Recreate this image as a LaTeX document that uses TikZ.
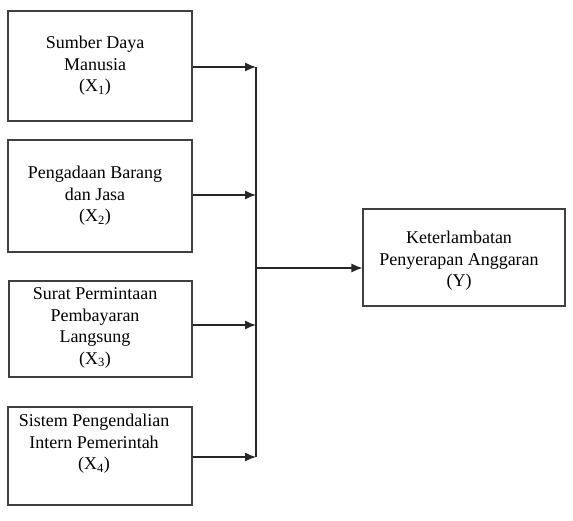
\documentclass[tikz,border=0pt]{standalone}
\usepackage{fontspec}
\setmainfont{Liberation Serif}
\usetikzlibrary{arrows.meta,calc}
\begin{document}
\begin{tikzpicture}[x=1pt,y=-1pt,
  box/.style={draw=black!75,line width=1.1pt,inner sep=0pt},
  txt/.style={align=center,font=\fontsize{18}{21.5}\selectfont,inner sep=0pt},
  conn/.style={line width=1.3pt,draw=black!85},
  arr/.style={conn,-{Latex[length=11pt,width=9pt]}}]
\useasboundingbox (0,0) rectangle (573,521);
\node[box,minimum width=184pt,minimum height=110pt] (B1) at (100,66) {};
\node[box,minimum width=184pt,minimum height=112pt] (B2) at (100,196) {};
\node[box,minimum width=183pt,minimum height=96pt] (B3) at (100.5,329) {};
\node[box,minimum width=184pt,minimum height=98pt] (B4) at (100,456) {};
\node[box,minimum width=202pt,minimum height=97pt] (R) at (464,257.5) {};
\node[txt] (T1) at (95,66) {Sumber Daya\\Manusia\\(X\textsubscript{1})};
\node[txt] (T2) at (95,196) {Pengadaan Barang\\dan Jasa\\(X\textsubscript{2})};
\node[txt] (T3) at (95,328) {Surat Permintaan\\Pembayaran\\Langsung\\(X\textsubscript{3})};
\node[txt] (T4) at (94,444) {Sistem Pengendalian\\Intern Pemerintah\\(X\textsubscript{4})};
\node[txt] (TR) at (459,261) {Keterlambatan\\Penyerapan Anggaran\\(Y)};
\coordinate (j1) at (256,67);
\coordinate (j2) at (256,195);
\coordinate (j3) at (256,325);
\coordinate (j4) at (256,457);
\coordinate (jy) at (256,268);
\draw[arr] (B1.east |- j1) -- (j1);
\draw[arr] (B2.east |- j2) -- (j2);
\draw[arr] (B3.east |- j3) -- (j3);
\draw[arr] (B4.east |- j4) -- (j4);
\draw[conn] (j1) -- (j4);
\draw[arr] (jy) -- (jy -| R.west);
\end{tikzpicture}
\end{document}
